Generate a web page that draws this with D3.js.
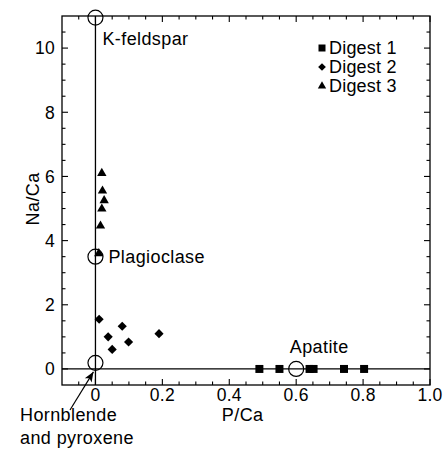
<!DOCTYPE html>
<html>
<head>
<meta charset="utf-8">
<script src="https://cdn.jsdelivr.net/npm/d3@7"></script>
<style>
  html, body { margin: 0; padding: 0; background: #fff; }
  text { font-family: "Liberation Sans", Arial, Helvetica, sans-serif; fill: #000; }
</style>
</head>
<body>
<svg id="chart" width="445" height="456"></svg>
<script>
// ---- data ----
const digest1PCa = [0.49, 0.55, 0.64, 0.652, 0.743, 0.803];
const digest1NaCa = [0, 0, 0, 0, 0, 0];
const digest2PCa = [0.011, 0.038, 0.05, 0.08, 0.099, 0.19];
const digest2NaCa = [1.55, 1.0, 0.61, 1.33, 0.84, 1.1];
const digest3PCa = [0.019, 0.021, 0.026, 0.019, 0.015, 0.01];
const digest3NaCa = [6.1, 5.55, 5.25, 4.99, 4.46, 3.6];
const mineralNames = ["K-feldspar", "Plagioclase", "Hornblende", "Apatite"];
const mineralPCa = [0, 0, 0, 0.6];
const mineralNaCa = [10.95, 3.5, 0.19, 0];
const xTickValues = [0, 0.2, 0.4, 0.6, 0.8, 1.0];
const xTickLabels = ["0", "0.2", "0.4", "0.6", "0.8", "1.0"];
const yTickValues = [0, 2, 4, 6, 8, 10];
const yTickLabels = ["0", "2", "4", "6", "8", "10"];
const legendLabels = ["Digest 1", "Digest 2", "Digest 3"];

// ---- layout ----
const svg = d3.select("#chart");
const L = 62, R = 430, T = 16, B = 385;
const x = d3.scaleLinear().domain([-0.1, 1.0]).range([L, R]);
const y = d3.scaleLinear().domain([-0.5, 11]).range([B, T]);

const xMinor = d3.range(-0.05, 1.0001, 0.05).map(v => +v.toFixed(2)).filter(v => !xTickValues.includes(v));
const yMinor = d3.range(-0.5, 11.0001, 0.5).map(v => +v.toFixed(1)).filter(v => !yTickValues.includes(v) && v > -0.5 && v < 11);

const major = 6, minor = 3.5;
const axes = svg.append("g").attr("stroke", "#000").attr("stroke-width", 1.1);
[[B, -1], [T, 1]].forEach(([yy, dir]) => {
  axes.selectAll(null).data(xTickValues).join("line")
    .attr("x1", d => x(d)).attr("x2", d => x(d)).attr("y1", yy).attr("y2", yy + dir * major);
  axes.selectAll(null).data(xMinor).join("line")
    .attr("x1", d => x(d)).attr("x2", d => x(d)).attr("y1", yy).attr("y2", yy + dir * minor);
});
[[L, 1], [R, -1]].forEach(([xx, dir]) => {
  axes.selectAll(null).data(yTickValues).join("line")
    .attr("y1", d => y(d)).attr("y2", d => y(d)).attr("x1", xx).attr("x2", xx + dir * major);
  axes.selectAll(null).data(yMinor).join("line")
    .attr("y1", d => y(d)).attr("y2", d => y(d)).attr("x1", xx).attr("x2", xx + dir * minor);
});

// reference lines x=0 and y=0
svg.append("line").attr("x1", x(0)).attr("x2", x(0)).attr("y1", T).attr("y2", B)
  .attr("stroke", "#000").attr("stroke-width", 1.3);
svg.append("line").attr("x1", L).attr("x2", R).attr("y1", y(0)).attr("y2", y(0))
  .attr("stroke", "#000").attr("stroke-width", 1.3);

// frame
svg.append("rect").attr("x", L).attr("y", T).attr("width", R - L).attr("height", B - T)
  .attr("fill", "none").attr("stroke", "#000").attr("stroke-width", 1.3);

// tick labels
svg.selectAll(null).data(xTickValues).join("text")
  .attr("x", d => x(d)).attr("y", 401).attr("text-anchor", "middle")
  .attr("font-size", 17.5).attr("letter-spacing", 0.3).text((d, i) => xTickLabels[i]);
svg.selectAll(null).data(yTickValues).join("text")
  .attr("x", 55).attr("y", d => y(d) + 6.3).attr("text-anchor", "end")
  .attr("font-size", 17.5).attr("letter-spacing", 0.3).text((d, i) => yTickLabels[i]);

// axis titles
svg.append("text").attr("x", x(0.44)).attr("y", 421).attr("text-anchor", "middle")
  .attr("font-size", 18).attr("letter-spacing", 0.4).text("P/Ca");
svg.append("text").attr("transform", `translate(39,${y(5.3)}) rotate(-90)`)
  .attr("text-anchor", "middle").attr("font-size", 18).attr("letter-spacing", 0.4).text("Na/Ca");

// markers
const sq = d3.symbol().type(d3.symbolSquare).size(64)();
const dm = d3.symbol().type(d3.symbolSquare).size(42)();
const tr = d3.symbol().type(d3.symbolTriangle).size(38)();

svg.selectAll(null).data(digest1PCa).join("path")
  .attr("d", sq).attr("transform", (d, i) => `translate(${x(d)},${y(digest1NaCa[i])})`);
svg.selectAll(null).data(digest2PCa).join("path")
  .attr("d", dm).attr("transform", (d, i) => `translate(${x(d)},${y(digest2NaCa[i])}) rotate(45)`);
svg.selectAll(null).data(digest3PCa).join("path")
  .attr("d", tr).attr("transform", (d, i) => `translate(${x(d)},${y(digest3NaCa[i])})`);

// mineral circles
svg.selectAll(null).data(mineralPCa).join("circle")
  .attr("cx", d => x(d)).attr("cy", (d, i) => y(mineralNaCa[i])).attr("r", 7.5)
  .attr("fill", "none").attr("stroke", "#000").attr("stroke-width", 1.2);

// mineral labels
function addText(t, xx, yy, anchor) {
  svg.append("text").attr("x", xx).attr("y", yy).attr("text-anchor", anchor || "start")
    .attr("font-size", 18).attr("letter-spacing", 0.4).text(t);
}
addText(mineralNames[0], x(mineralPCa[0]) + 7, y(mineralNaCa[0]) + 27);
addText(mineralNames[1], x(mineralPCa[1]) + 13, y(mineralNaCa[1]) + 6.5);
addText(mineralNames[3], x(mineralPCa[3]) + 23, y(mineralNaCa[3]) - 16, "middle");
addText("Hornblende", 20, 421);
addText("and pyroxene", 20, 444);

// arrow to hornblende
const ax0 = 70, ay0 = 410, ax1 = x(mineralPCa[2]) - 2, ay1 = y(mineralNaCa[2]) + 9;
svg.append("line").attr("x1", ax0).attr("y1", ay0).attr("x2", ax1).attr("y2", ay1)
  .attr("stroke", "#000").attr("stroke-width", 1.2);
const ang = Math.atan2(ay1 - ay0, ax1 - ax0) * 180 / Math.PI;
svg.append("path").attr("d", "M0,0 L-10,-4 L-7.5,0 L-10,4 Z")
  .attr("transform", `translate(${ax1},${ay1}) rotate(${ang})`).attr("fill", "#000");

// legend
const lx = 322, ly = [48, 67, 86];
const lsq = d3.symbol().type(d3.symbolSquare).size(49)();
const ldm = d3.symbol().type(d3.symbolSquare).size(30)();
const ltr = d3.symbol().type(d3.symbolTriangle).size(30)();
const legendSyms = [lsq, ldm, ltr];
legendLabels.forEach((t, i) => {
  svg.append("path").attr("d", legendSyms[i])
    .attr("transform", `translate(${lx},${ly[i]})` + (i === 1 ? " rotate(45)" : ""));
  svg.append("text").attr("x", lx + 7).attr("y", ly[i] + 6.3).attr("font-size", 18)
    .attr("letter-spacing", 0.2).text(t);
});
</script>
</body>
</html>
